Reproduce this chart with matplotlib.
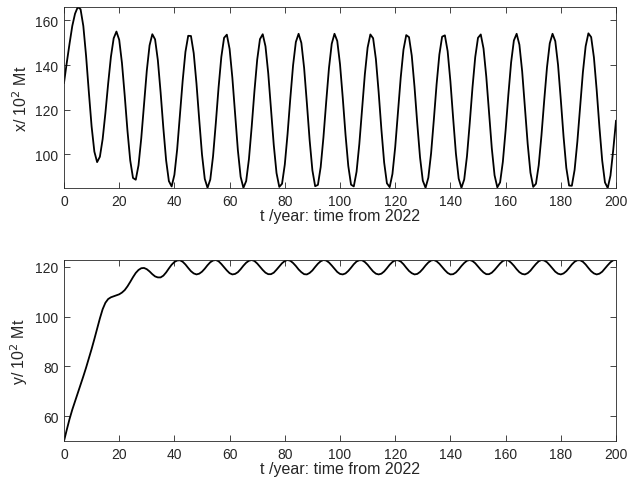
import numpy as np
import matplotlib
matplotlib.use("Agg")
import matplotlib.pyplot as plt

plt.rcParams['font.family'] = ['Liberation Sans', 'DejaVu Sans']

# x(t): yearly values
t_x = np.arange(0, 201, 1)
x_vals = [
    132.0, 141.0, 149.5, 157.5, 163.0, 166.0, 165.0, 157.5, 144.1, 127.9,
    112.5, 101.2, 96.5, 98.9, 106.8, 118.5, 131.7, 143.7, 152.0, 155.0,
    151.3, 140.9, 126.3, 110.5, 97.2, 89.4, 88.6, 95.1, 107.3, 122.6,
    137.5, 148.8, 153.8, 151.5, 142.2, 127.8, 111.7, 97.3, 88.0, 85.6,
    90.8, 102.2, 117.4, 133.0, 145.9, 153.1, 153.0, 145.3, 131.7, 115.4,
    99.9, 89.0, 85.0, 88.7, 99.1, 113.9, 129.9, 143.6, 152.2, 153.6,
    147.2, 134.3, 117.8, 101.8, 89.9, 85.0, 88.0, 97.8, 112.3, 128.3,
    142.4, 151.6, 153.8, 148.4, 136.3, 120.3, 104.2, 91.6, 85.4, 86.8,
    95.4, 109.1, 125.1, 139.9, 150.3, 154.0, 149.9, 138.7, 122.9, 106.3,
    92.8, 85.7, 86.3, 94.3, 107.6, 123.5, 138.6, 149.5, 154.0, 150.8,
    140.4, 125.3, 108.8, 94.8, 86.4, 85.6, 92.2, 104.6, 120.3, 135.8,
    147.8, 153.7, 152.0, 142.7, 127.9, 111.1, 96.3, 87.0, 85.3, 91.2,
    103.2, 118.7, 134.4, 146.9, 153.4, 152.5, 144.2, 130.2, 113.7, 98.6,
    88.2, 85.0, 89.5, 100.4, 115.5, 131.4, 144.7, 152.7, 153.3, 146.2,
    132.7, 116.1, 100.3, 89.1, 85.0, 88.7, 99.1, 113.9, 129.9, 143.6,
    152.2, 153.7, 147.4, 134.8, 118.7, 102.7, 90.6, 85.2, 87.4, 96.6,
    110.7, 126.7, 141.2, 151.0, 154.0, 149.1, 137.2, 121.2, 104.7, 91.8,
    85.4, 86.8, 95.1, 108.6, 124.3, 139.0, 149.7, 154.0, 150.7, 140.1,
    124.5, 107.9, 93.9, 86.0, 85.9, 93.0, 105.7, 121.3, 136.7, 148.4,
    154.2, 152.5, 143.4, 128.8, 112.1, 97.2, 87.4, 84.9, 90.5, 102.0,
    115.0,
]

# y(t): yearly values
t_y = np.arange(0, 201, 1)
y_vals = [
    50.0, 54.5, 58.8, 62.6, 66.0, 69.3, 72.6, 76.0, 79.5, 83.2,
    87.0, 91.0, 95.2, 99.3, 103.0, 105.6, 107.1, 107.8, 108.2, 108.6,
    109.0, 109.7, 110.7, 112.2, 114.0, 115.9, 117.6, 118.8, 119.5, 119.6,
    119.1, 118.2, 117.1, 116.2, 115.8, 115.8, 116.5, 117.8, 119.4, 120.9,
    122.0, 122.6, 122.7, 122.1, 121.0, 119.6, 118.3, 117.4, 117.0, 117.3,
    118.1, 119.3, 120.7, 121.9, 122.6, 122.8, 122.3, 121.2, 119.9, 118.6,
    117.5, 117.0, 117.2, 117.9, 119.1, 120.5, 121.7, 122.5, 122.8, 122.4,
    121.4, 120.1, 118.8, 117.7, 117.1, 117.1, 117.7, 118.9, 120.2, 121.5,
    122.4, 122.8, 122.5, 121.6, 120.4, 119.0, 117.9, 117.1, 117.0, 117.6,
    118.6, 120.0, 121.3, 122.3, 122.8, 122.6, 121.8, 120.6, 119.3, 118.0,
    117.2, 117.0, 117.4, 118.4, 119.7, 121.1, 122.2, 122.7, 122.7, 122.0,
    120.9, 119.5, 118.2, 117.3, 117.0, 117.3, 118.2, 119.5, 120.9, 122.0,
    122.7, 122.7, 122.2, 121.1, 119.7, 118.4, 117.5, 117.0, 117.2, 118.0,
    119.2, 120.6, 121.8, 122.6, 122.8, 122.3, 121.3, 120.0, 118.7, 117.6,
    117.0, 117.1, 117.8, 119.0, 120.4, 121.6, 122.5, 122.8, 122.4, 121.5,
    120.2, 118.9, 117.8, 117.1, 117.1, 117.7, 118.8, 120.1, 121.4, 122.4,
    122.8, 122.6, 121.7, 120.5, 119.1, 117.9, 117.2, 117.0, 117.5, 118.5,
    119.9, 121.2, 122.3, 122.8, 122.6, 121.9, 120.7, 119.4, 118.1, 117.3,
    117.0, 117.4, 118.3, 119.6, 121.0, 122.1, 122.7, 122.7, 122.1, 121.0,
    119.6, 118.3, 117.4, 117.0, 117.3, 118.1, 119.4, 120.7, 121.9, 122.7,
    122.8,
]

x_ticks = np.arange(0, 201, 20)
xlabel = 't /year: time from 2022'
axis_color = '#262626'

fig = plt.figure(figsize=(6.28, 4.89), dpi=100)
ax_top = fig.add_axes([64 / 628, 1 - 189 / 489, 552 / 628, 181 / 489])
ax_bot = fig.add_axes([64 / 628, 1 - 442 / 489, 552 / 628, 181 / 489])

ax_top.plot(t_x, x_vals, color='black', linewidth=1.3)
ax_top.set_ylim(min(x_vals), max(x_vals))
ax_top.set_yticks([100, 120, 140, 160])
ax_top.set_ylabel('x/ 10$^2$ Mt', fontsize=11.5, color=axis_color)

ax_bot.plot(t_y, y_vals, color='black', linewidth=1.3)
ax_bot.set_ylim(min(y_vals), max(y_vals))
ax_bot.set_yticks([60, 80, 100, 120])
ax_bot.set_ylabel('y/ 10$^2$ Mt', fontsize=11.5, color=axis_color)

for ax in (ax_top, ax_bot):
    ax.set_xlim(0, 200)
    ax.set_xticks(x_ticks)
    ax.set_xlabel(xlabel, fontsize=11.5, color=axis_color, labelpad=0)
    ax.tick_params(direction='in', top=True, right=True, length=4, width=0.6,
                   labelsize=10, colors=axis_color, pad=4)
    for sp in ax.spines.values():
        sp.set_linewidth(0.6)
        sp.set_color(axis_color)

fig.savefig('out.png', dpi=100)
